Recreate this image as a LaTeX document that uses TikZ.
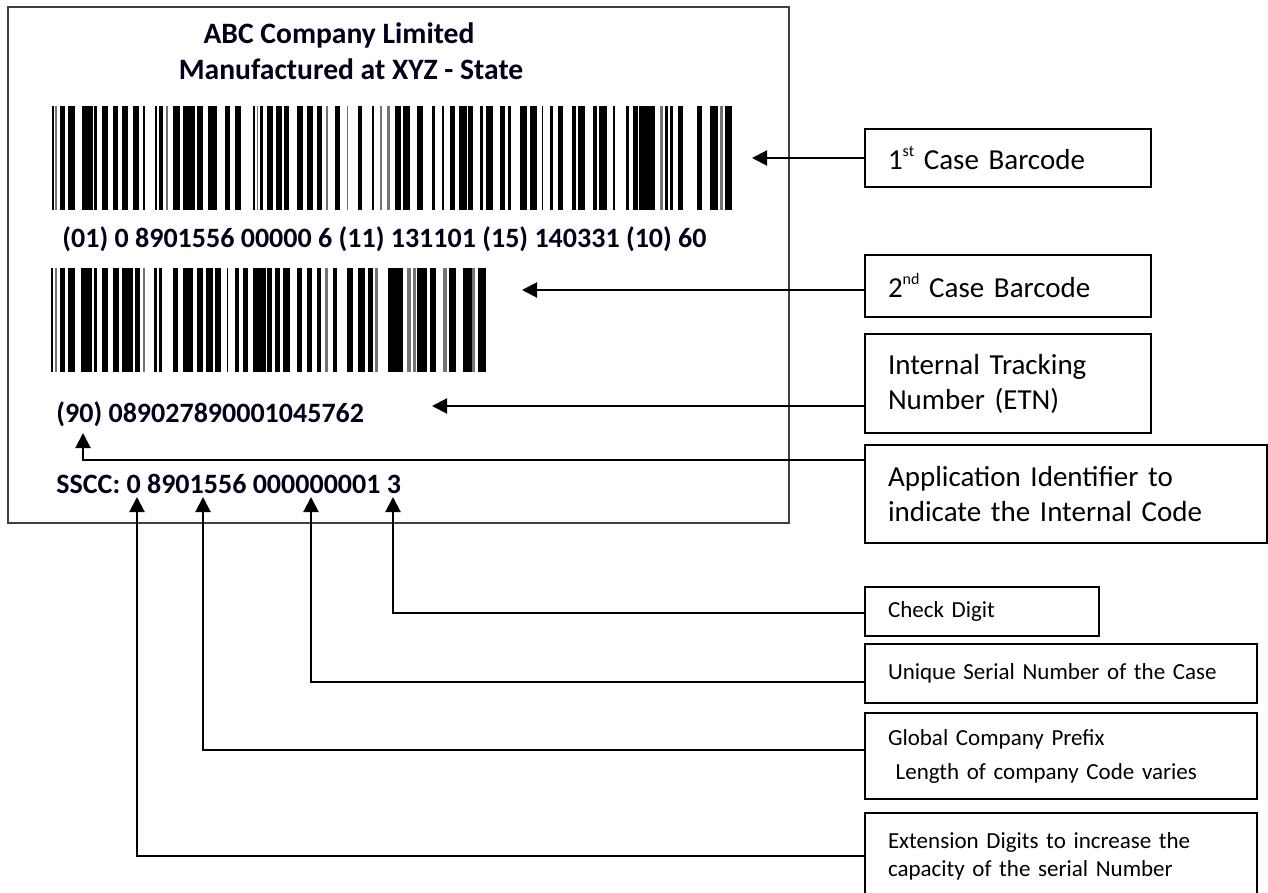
\documentclass[tikz,border=0pt]{standalone}
\usepackage{fontspec}
\setmainfont{Carlito}
\usetikzlibrary{arrows.meta}

\newcommand{\sufx}[1]{\raisebox{6.5pt}{\fontsize{8}{8}\selectfont #1}}

\tikzset{
	callout/.style={draw, line width=1pt, anchor=north west, align=left, inner xsep=11.5pt, inner ysep=0pt},
	bigtext/.style={font=\fontsize{14.5}{17.5}\selectfont},
	smalltext/.style={font=\fontsize{11.5}{14}\selectfont},
	labeltext/.style={font=\fontsize{14}{16}\selectfont\bfseries, text=black!90!blue, inner sep=0pt},
	headtext/.style={labeltext, font=\fontsize{14.8}{17}\selectfont\bfseries},
	arr/.style={line width=1pt, -{Triangle[length=7.5pt,width=7.5pt]}}
}

\begin{document}
\begin{tikzpicture}[x=0.5pt, y=-0.5pt]
\useasboundingbox (0,0) rectangle (1268,893);

% the case label
\draw[line width=1pt, black!75] (8,7) rectangle (789,523);
\node[headtext, anchor=base] (company) at (339,44) {ABC Company Limited};
\node[headtext, anchor=base] (plant) at (351,80) {Manufactured at XYZ - State};

% barcodes
\foreach \a/\b in {52/54,60/65,68/75,82/93,94/97,102/108,113/118,122/128,133/139,143/145,155/157,159/163,173/180,183/195,197/203,208/217,225/230,235/241,253/255,260/263,267/273,276/282,284/289,297/303,307/313,317/322,335/340,358/362,372/374,395/401,403/410,417/423,432/435,442/444,450/455,459/467,468/473,480/483,486/493,500/505,508/511,520/527,530/537,542/543,550/553,558/563,572/576,578/585,593/597,599/607,613/615,626/629,633/638,639/655,665/668,670/673,678/683,697/702,710/718,725/732}
	\fill (\a,106) rectangle (\b,210);
\foreach \a/\b in {55/57,166/168,257/258,326/328,347/348,380/382,387/390,660/663,720/723}
	\fill[black!55] (\a,106) rectangle (\b,210);
\foreach \a/\b in {51/53,60/65,68/75,81/92,94/97,102/108,113/119,122/133,135/140,154/157,159/162,173/178,183/193,197/203,206/213,215/221,227/228,235/239,243/248,253/266,267/272,275/280,283/290,297/302,307/312,317/321,333/337,347/353,358/365,368/373,388/403,417/427,430/436,449/456,463/472,478/486}
	\fill (\a,268) rectangle (\b,372);
\foreach \a/\b in {55/57,143/145,325/328,375/378,407/411,413/416,443/447,472/475}
	\fill[black!55] (\a,268) rectangle (\b,372);

\node[labeltext, anchor=base west] (gtin) at (62,248) {(01) 0 8901556 00000 6 (11) 131101 (15) 140331 (10) 60};
\node[labeltext, anchor=base west] (etn) at (56,422) {(90) 089027890001045762};
\node[labeltext, anchor=base west] (sscc) at (56,493) {SSCC: 0 8901556 000000001 3};

% explanation boxes
\node[callout, bigtext, text width=120pt, minimum height=29pt] (first) at (864,128) {1\sufx{st} Case Barcode};
\node[callout, bigtext, text width=120pt, minimum height=31pt] (second) at (864,254) {2\sufx{nd} Case Barcode};
\node[callout, bigtext, text width=120pt, minimum height=49.5pt] (track) at (864,333) {Internal Tracking\\Number (ETN)};
\node[callout, bigtext, text width=178pt, minimum height=49pt] (appid) at (864,444) {Application Identifier to\\indicate the Internal Code};
\node[callout, smalltext, text width=94pt, minimum height=24.5pt] (check) at (864,586) {Check Digit};
\node[callout, smalltext, text width=173pt, minimum height=29.5pt] (serial) at (864,643) {Unique Serial Number of the Case};
\node[callout, smalltext, text width=173pt, minimum height=43pt] (prefix) at (864,712) {Global Company Prefix\\[3pt]\ Length of company Code varies};
\node[callout, smalltext, text width=173pt, minimum height=43pt] (ext) at (864,812) {Extension Digits to increase the\\capacity of the serial Number};

% arrow tips
\coordinate (p1) at (752,158);
\coordinate (p2) at (522,290);
\coordinate (p3) at (432,406);
\coordinate (p4) at (83,433);
\coordinate (p5) at (393,497);
\coordinate (p6) at (311,497);
\coordinate (p7) at (203,497);
\coordinate (p8) at (137,497);

\draw[arr] (first.west |- p1) -- (p1);
\draw[arr] (second.west |- p2) -- (p2);
\draw[arr] (track.west |- p3) -- (p3);
\draw[arr] (appid.west |- 0,460) -| (p4);
\draw[arr] (check.west |- 0,613) -| (p5);
\draw[arr] (serial.west |- 0,682) -| (p6);
\draw[arr] (prefix.west |- 0,750) -| (p7);
\draw[arr] (ext.west |- 0,856) -| (p8);
\end{tikzpicture}
\end{document}
